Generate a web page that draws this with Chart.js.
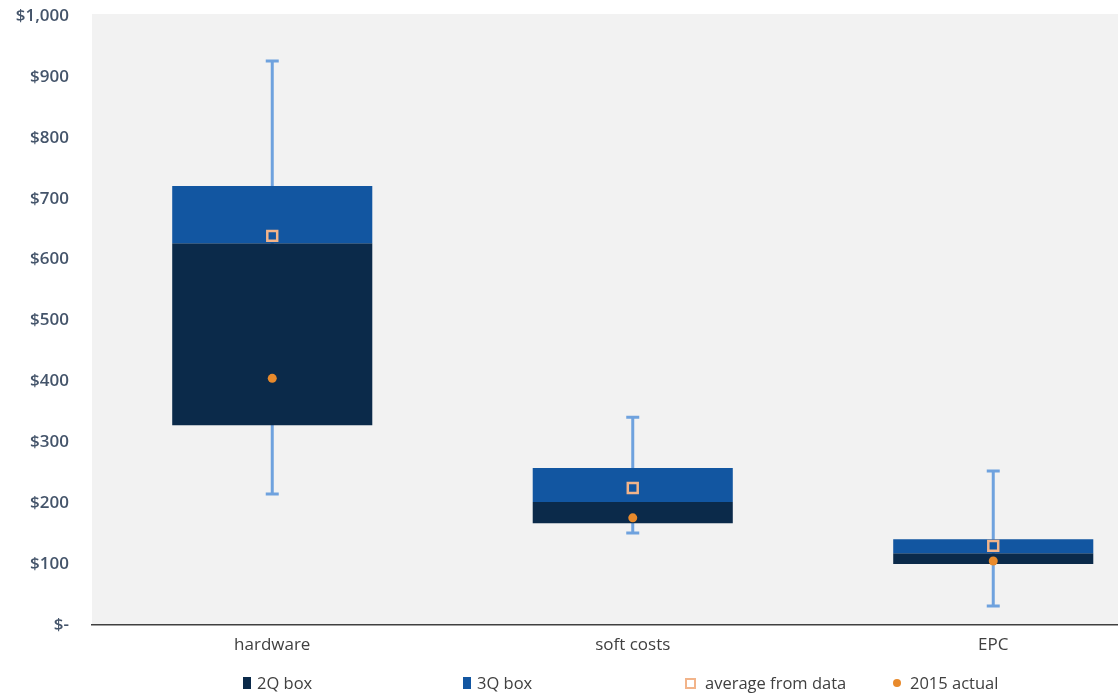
<!DOCTYPE html>
<html>
<head>
<meta charset="utf-8">
<script src="https://cdn.jsdelivr.net/npm/chart.js@4/dist/chart.umd.min.js"></script>
<style>
  html, body { margin: 0; padding: 0; background: #ffffff; overflow: hidden; width: 1118px; height: 694px; }
  #wrap { position: relative; width: 1183px; height: 694px; }
  #c { position: absolute; left: 0; top: 0; }
  .lg { position: absolute; top: 672px; height: 22px; font-family: "Open Sans", sans-serif; font-size: 16.5px; color: #404040; line-height: 22px; white-space: nowrap; }
  .lg span.sw { position: absolute; }
</style>
</head>
<body>
<div id="wrap">
  <canvas id="c" width="1183" height="694"></canvas>
</div>
<script>
const categories = ['hardware', 'soft costs', 'EPC'];
const q1 = [328, 167, 100];
const median = [627, 202, 118];
const q3 = [721, 258, 141];
const whiskerLow = [215, 151, 31];
const whiskerHigh = [926, 341, 253];
const average = [639, 225, 130];
const actual2015 = [405, 176, 105];
const yTicks = [0, 100, 200, 300, 400, 500, 600, 700, 800, 900, 1000];

const seriesNames = ['2Q box', '3Q box', 'average from data', '2015 actual'];
const colors = { q2: '#0B2A4A', q3: '#1256A1', avg: '#F2B48A', act: '#E88A2C', whisker: '#6FA2DE' };

const bgPlugin = {
  id: 'plotBg',
  beforeDraw(chart) {
    const { ctx, chartArea } = chart;
    ctx.save();
    ctx.fillStyle = '#F2F2F2';
    ctx.fillRect(chartArea.left, chartArea.top - 2, chartArea.right - chartArea.left, chartArea.bottom - chartArea.top + 2);
    ctx.restore();
  }
};

const whiskerPlugin = {
  id: 'whiskers',
  beforeDatasetsDraw(chart) {
    const { ctx, scales } = chart;
    ctx.save();
    ctx.strokeStyle = colors.whisker;
    ctx.lineWidth = 3;
    categories.forEach((c, i) => {
      const x = scales.x.getPixelForValue(i);
      const yl = scales.y.getPixelForValue(whiskerLow[i]);
      const yh = scales.y.getPixelForValue(whiskerHigh[i]);
      ctx.beginPath();
      ctx.moveTo(x, yl); ctx.lineTo(x, yh);
      ctx.moveTo(x - 6.5, yl); ctx.lineTo(x + 6.5, yl);
      ctx.moveTo(x - 6.5, yh); ctx.lineTo(x + 6.5, yh);
      ctx.stroke();
    });
    ctx.restore();
  }
};

new Chart(document.getElementById('c'), {
  data: {
    labels: categories,
    datasets: [
      {
        type: 'scatter', label: seriesNames[3], data: actual2015.map((v, i) => ({ x: i, y: v })),
        showLine: false, pointStyle: 'circle', pointRadius: 4.5, pointHoverRadius: 4.5,
        backgroundColor: colors.act, borderColor: colors.act, borderWidth: 0, order: 0
      },
      {
        type: 'scatter', label: seriesNames[2], data: average.map((v, i) => ({ x: i, y: v })),
        showLine: false, pointStyle: 'rect', pointRadius: 7, pointHoverRadius: 7,
        backgroundColor: 'rgba(0,0,0,0)', borderColor: colors.avg, borderWidth: 2.5, order: 1
      },
      {
        type: 'bar', label: seriesNames[0], data: q1.map((v, i) => [v, median[i]]),
        backgroundColor: colors.q2, grouped: false, barPercentage: 0.555, categoryPercentage: 1, order: 3
      },
      {
        type: 'bar', label: seriesNames[1], data: median.map((v, i) => [v, q3[i]]),
        backgroundColor: colors.q3, grouped: false, barPercentage: 0.555, categoryPercentage: 1, order: 2
      }
    ]
  },
  options: {
    responsive: false,
    animation: false,
    layout: { padding: { top: 16, right: 0, bottom: 0, left: 0 } },
    plugins: { legend: { display: false }, tooltip: { enabled: false } },
    scales: {
      x: {
        type: 'category', offset: true,
        grid: { display: false, drawTicks: false },
        border: { display: true, color: '#404040', width: 1.5 },
        ticks: { padding: 10, color: '#404040', font: { family: 'Open Sans', size: 17 } },
        afterFit(s) { s.height = 69; s.paddingLeft = 0; s.paddingRight = 0; }
      },
      y: {
        type: 'linear', min: 0, max: 1000,
        afterBuildTicks(s) { s.ticks = yTicks.map(v => ({ value: v })); },
        grid: { display: false, drawTicks: false },
        border: { display: false },
        ticks: {
          padding: 23, color: '#44546A', font: { family: 'Open Sans', size: 17, weight: '600' },
          callback: v => v === 0 ? '$-' : '$' + v.toLocaleString('en-US')
        },
        afterFit(s) { s.width = 92; s.paddingTop = 0; s.paddingBottom = 0; }
      }
    }
  },
  plugins: [bgPlugin, whiskerPlugin]
});

// legend (HTML, real text)
const legendSpecs = [
  { name: seriesNames[0], left: 243, sw: 'width:8px;height:12px;top:5px;left:0;background:' + colors.q2, textLeft: 14 },
  { name: seriesNames[1], left: 463, sw: 'width:8px;height:12px;top:5px;left:0;background:' + colors.q3, textLeft: 14 },
  { name: seriesNames[2], left: 685, sw: 'width:7px;height:7px;top:5.5px;left:0;border:2.5px solid ' + colors.avg, textLeft: 20 },
  { name: seriesNames[3], left: 893, sw: 'width:8px;height:8px;top:7px;left:0;border-radius:50%;background:' + colors.act, textLeft: 17 }
];
const wrap = document.getElementById('wrap');
legendSpecs.forEach(s => {
  const d = document.createElement('div');
  d.className = 'lg';
  d.style.left = s.left + 'px';
  d.innerHTML = '<span class="sw" style="' + s.sw + '"></span><span style="margin-left:' + s.textLeft + 'px">' + s.name + '</span>';
  wrap.appendChild(d);
});
</script>
</body>
</html>
